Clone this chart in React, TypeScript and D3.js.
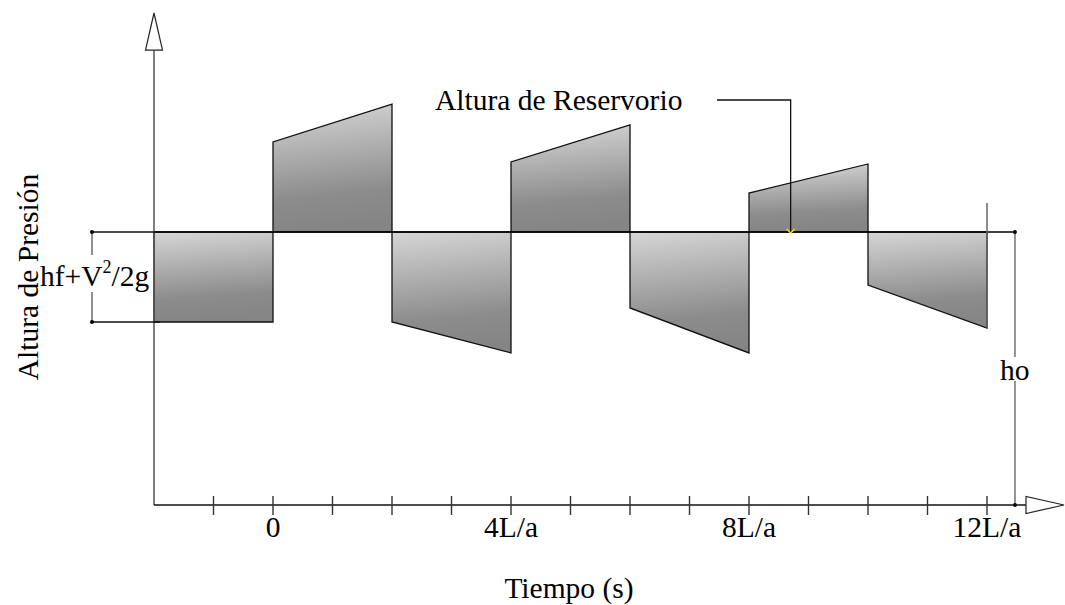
import React from "react";
import * as d3 from "d3";

// Time in units of L/a; head in units of (hf + V^2/2g) relative to reservoir level
const blockStarts = [-2, 0, 2, 4, 6, 8, 10];
const blockEnds = [0, 2, 4, 6, 8, 10, 12];
const headStart = [-1, 1.0, -1.0, 0.778, -0.844, 0.433, -0.589];
const headEnd = [-1, 1.422, -1.344, 1.189, -1.344, 0.756, -1.067];
const tickValues = [-1, 0, 1, 2, 3, 4, 5, 6, 7, 8, 9, 10, 11, 12];
const tickLabelValues = [0, 4, 8, 12];
const tickLabels = ["0", "4L/a", "8L/a", "12L/a"];
const xMin = -2;
const xAxisEnd = 12.47;
const yAxisBottom = -3.033;
const yAxisTop = 2.02;
const markerTime = 12;
const markerTop = 0.322;
const reservoirPointer = 8.7;

const FONT = "'Liberation Serif', 'Times New Roman', serif";

export default function App() {
  const x = d3.scaleLinear().domain([0, 12]).range([273, 987]);
  const y = d3.scaleLinear().domain([-1, 0]).range([322, 232]);
  const x0 = x(xMin);
  const yb = y(yAxisBottom);
  const yTop = y(yAxisTop);
  const xr = x(xAxisEnd);
  const area = d3
    .line<[number, number]>()
    .x((d) => x(d[0]))
    .y((d) => y(d[1]));

  const blocks = blockStarts.map((s, i) => {
    const e = blockEnds[i];
    const pts: [number, number][] = [
      [s, 0],
      [s, headStart[i]],
      [e, headEnd[i]],
      [e, 0],
    ];
    return area(pts) + "Z";
  });

  const px = x(reservoirPointer);
  const textStyle = { fontFamily: FONT, fontSize: 29.5, fill: "#000" };

  return (
    <svg width={1065} height={605} style={{ position: "absolute", left: 0, top: 0, background: "#fff" }}>
      <defs>
        <linearGradient id="gfill" x1="0" y1="0" x2="0.1" y2="1">
          <stop offset="0" stopColor="#d6d6d6" />
          <stop offset="0.75" stopColor="#8c8c8c" />
          <stop offset="1" stopColor="#858585" />
        </linearGradient>
      </defs>
      <rect x={0} y={0} width={1065} height={605} fill="#fff" />

      {blocks.map((d, i) => (
        <path key={i} d={d} fill="url(#gfill)" stroke="#111" strokeWidth={1.3} strokeLinejoin="miter" />
      ))}

      {/* reservoir line */}
      <line x1={x0} x2={x(xAxisEnd)} y1={y(0)} y2={y(0)} stroke="#000" strokeWidth={1.4} />

      {/* marker vertical at 12L/a */}
      <line x1={x(markerTime)} x2={x(markerTime)} y1={y(markerTop)} y2={y(headEnd[6])} stroke="#666" strokeWidth={1.5} />

      {/* ho dimension */}
      <line x1={xr} x2={xr} y1={y(0)} y2={357} stroke="#666" strokeWidth={1.4} />
      <line x1={xr} x2={xr} y1={381} y2={yb} stroke="#666" strokeWidth={1.4} />
      <circle cx={xr} cy={y(0)} r={2} fill="#000" />
      <circle cx={xr} cy={yb} r={2} fill="#000" />
      <text x={1000} y={380} style={textStyle}>ho</text>

      {/* axes */}
      <line x1={x0} x2={x0} y1={yTop} y2={yb} stroke="#555" strokeWidth={1.5} />
      <path d={`M${x0},13 L${x0 - 8.5},${yTop} L${x0 + 8.5},${yTop} Z`} fill="#fff" stroke="#222" strokeWidth={1.2} />
      <line x1={x0} x2={1026} y1={yb} y2={yb} stroke="#111" strokeWidth={1.5} />
      <path d={`M1026,${yb - 8.5} L1026,${yb + 8.5} L1064,${yb} Z`} fill="#fff" stroke="#222" strokeWidth={1.2} />
      {tickValues.map((t) => (
        <line key={t} x1={x(t)} x2={x(t)} y1={yb - 9} y2={yb + 10} stroke="#333" strokeWidth={1.4} />
      ))}
      {tickLabelValues.map((t, i) => (
        <text key={t} x={x(t)} y={537} textAnchor="middle" style={textStyle}>
          {tickLabels[i]}
        </text>
      ))}

      {/* bracket hf + V^2/2g */}
      <line x1={92} x2={92} y1={y(0)} y2={255} stroke="#555" strokeWidth={1.3} />
      <line x1={92} x2={92} y1={292} y2={y(-1)} stroke="#555" strokeWidth={1.3} />
      <line x1={92} x2={160} y1={y(0)} y2={y(0)} stroke="#111" strokeWidth={1.3} />
      <line x1={92} x2={160} y1={y(-1)} y2={y(-1)} stroke="#111" strokeWidth={1.3} />
      <circle cx={92} cy={y(0)} r={2} fill="#000" />
      <circle cx={92} cy={y(-1)} r={2} fill="#000" />
      <text x={40} y={286} style={textStyle}>
        hf+V<tspan fontSize={18} dy={-13}>2</tspan><tspan dy={13}>/2g</tspan>
      </text>

      {/* reservoir label and leader */}
      <text x={435} y={110} style={textStyle}>Altura de Reservorio</text>
      <path d={`M717,100 L${px},100 L${px},${y(0)}`} fill="none" stroke="#111" strokeWidth={1.3} />
      <path d={`M${px - 4},${y(0) - 3} L${px},${y(0) + 1} L${px + 4},${y(0) - 3}`} fill="none" stroke="#e6e600" strokeWidth={1.5} />

      {/* axis titles */}
      <text x={569} y={598} textAnchor="middle" style={textStyle}>Tiempo (s)</text>
      <text transform="translate(38,277) rotate(-90)" textAnchor="middle" style={textStyle}>Altura de Presión</text>
    </svg>
  );
}
